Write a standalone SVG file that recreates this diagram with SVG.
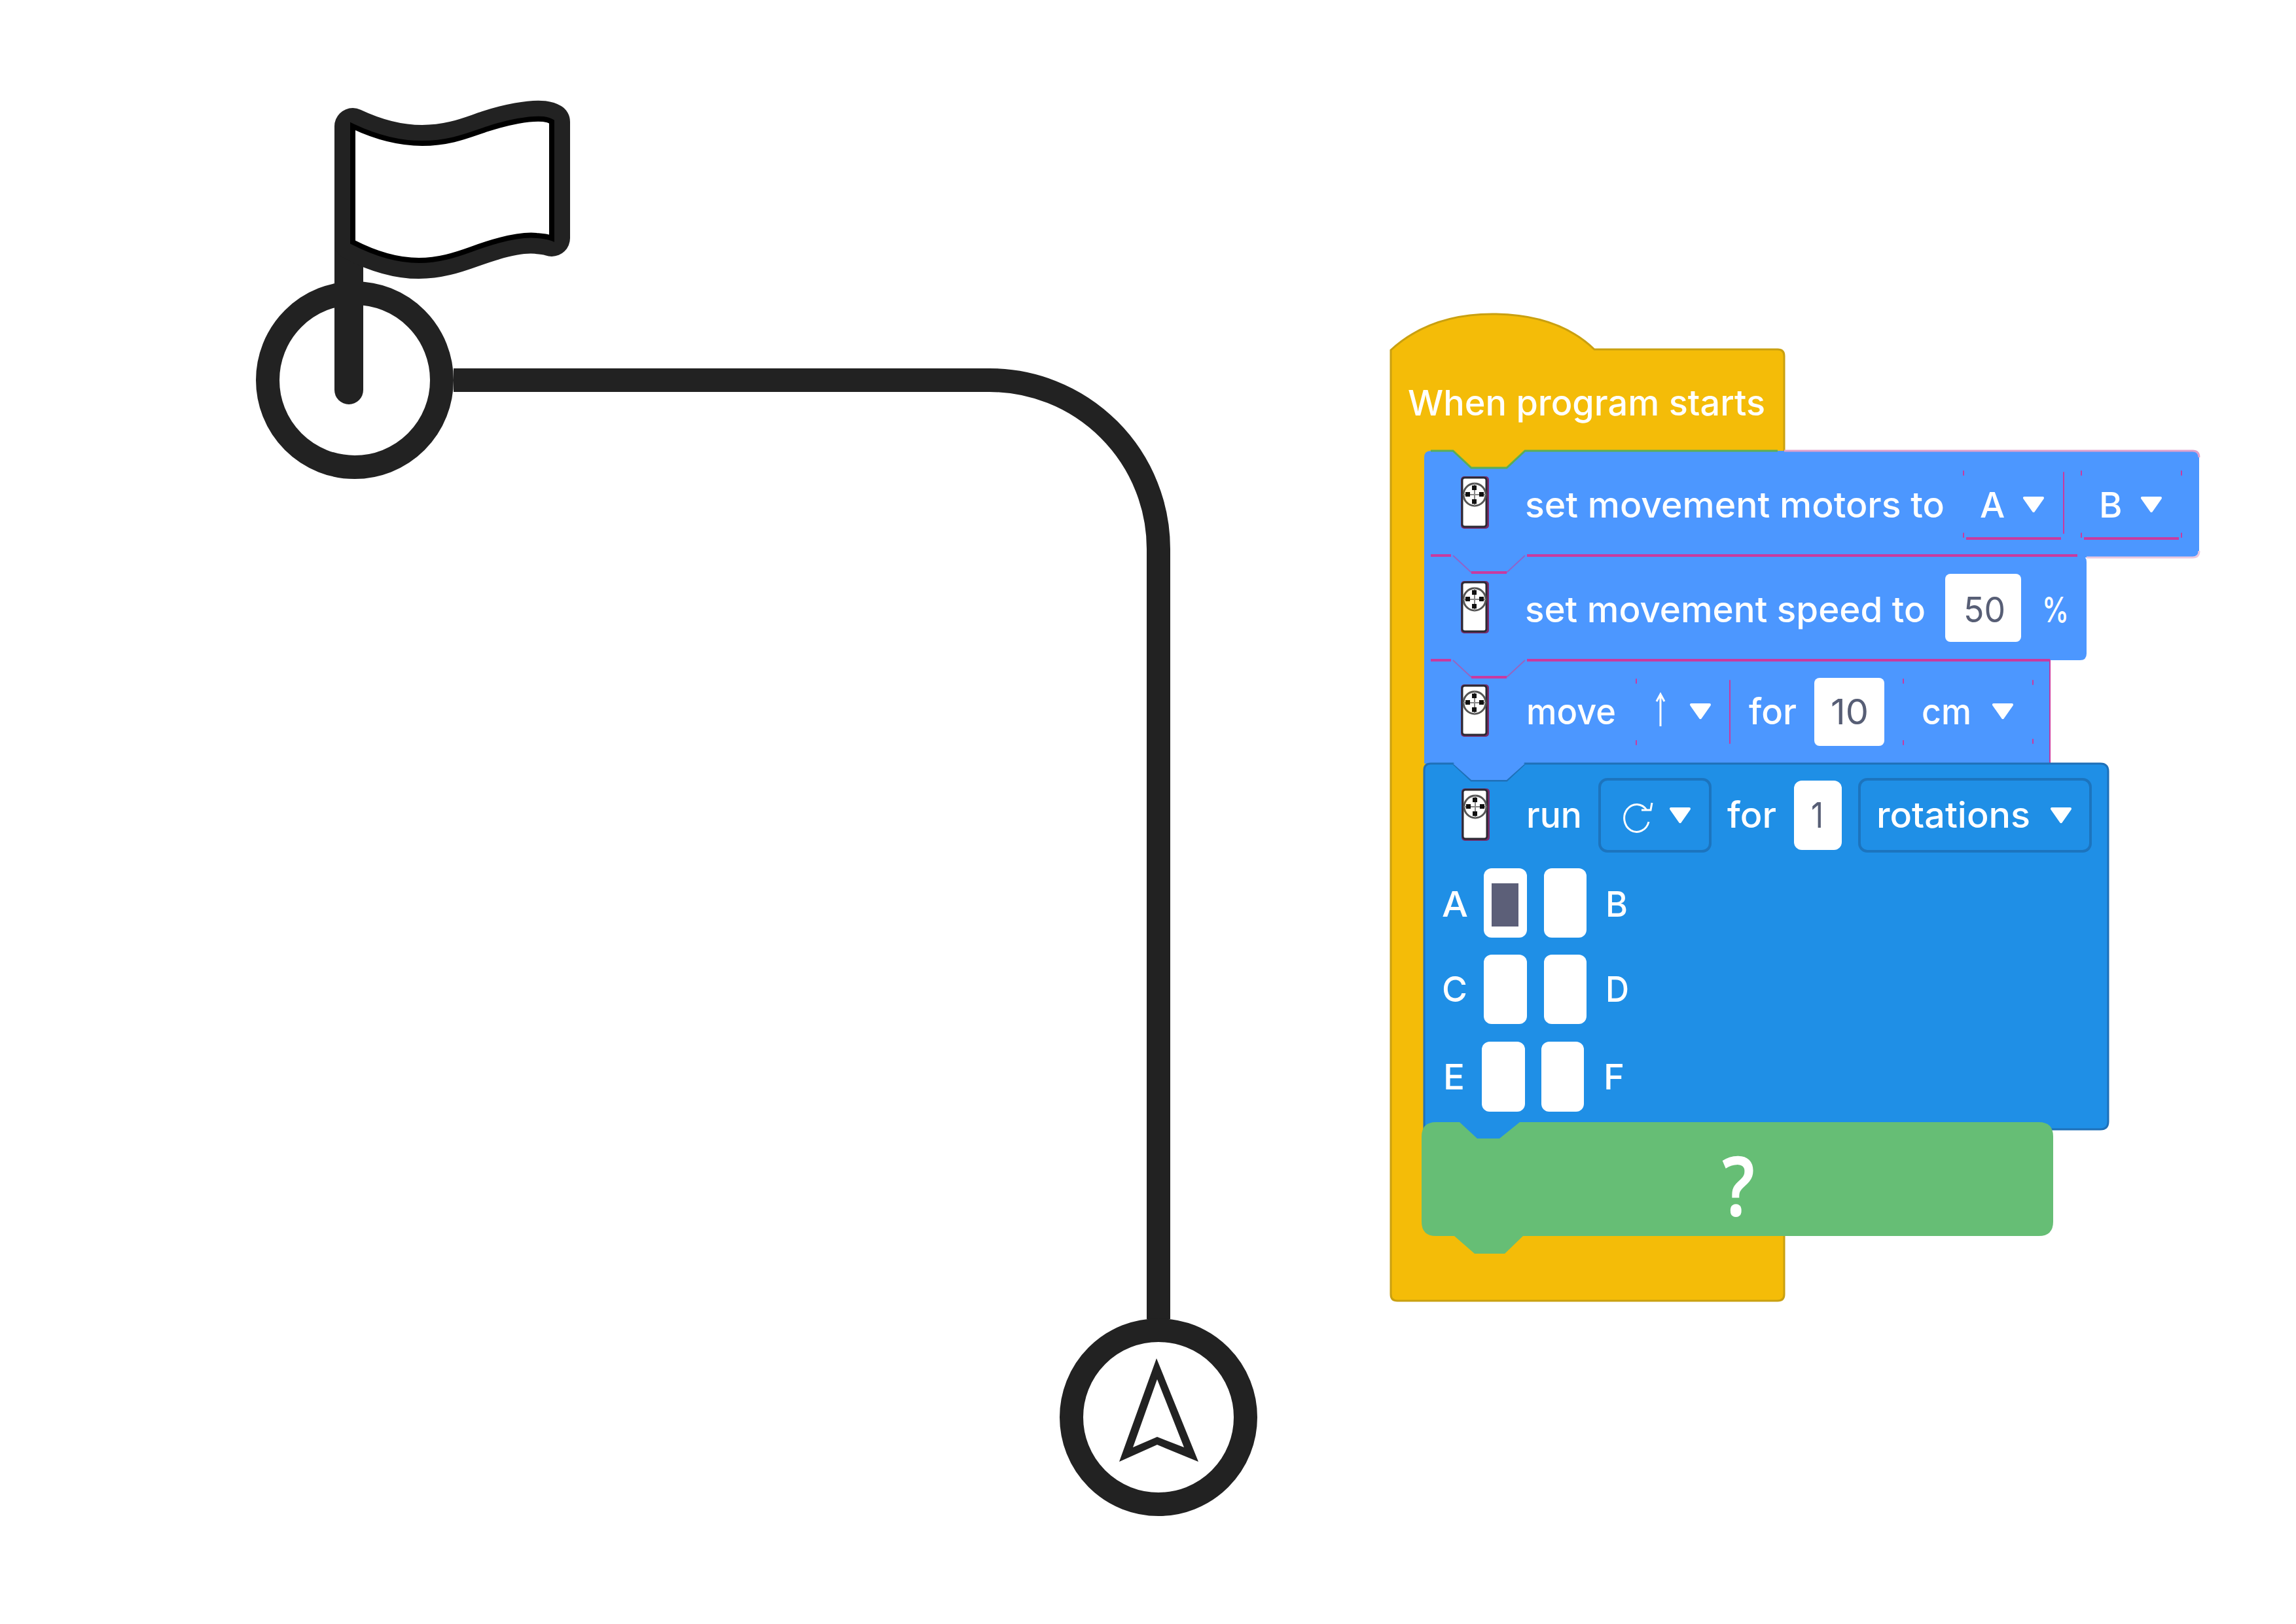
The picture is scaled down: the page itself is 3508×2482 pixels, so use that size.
<svg xmlns="http://www.w3.org/2000/svg" width="3508" height="2482" viewBox="0 0 3508 2482">
<style>
.t{font-family:Inter,"Liberation Sans",sans-serif;font-size:54px;fill:#fff;font-weight:500}
.g{fill:#575E75;font-weight:400}
.dd{fill:none;stroke:#1C74BE;stroke-width:4}
.in{fill:#fff}
.m{fill:none;stroke:#C93A9F;stroke-width:4}
.d{fill:none;stroke:#C93A9F;stroke-width:2;stroke-opacity:.55}
.md{fill:none;stroke:#C93A9F;stroke-width:2;stroke-linecap:round}
.mb{fill:none;stroke:#C93A9F;stroke-width:4}
.k{fill:none;stroke:#222;stroke-width:36}
</style>
<defs>
<path id="tri" d="M2 1H30L16 21Z" fill="#fff" stroke="#fff" stroke-width="4" stroke-linejoin="round"/>
<g id="icon">
<rect x="-1" y="-1" width="43" height="80" rx="5" fill="#7A2A6A"/>
<rect x="1" y="1" width="37" height="75" rx="4" fill="#fff" stroke="#2A2A33" stroke-width="3"/>
<circle cx="20" cy="27" r="17" fill="#fff" stroke="#555" stroke-width="3"/>
<path d="M20 10V44M3 27H37" stroke="#888" stroke-width="2"/>
<rect x="16" y="13" width="7" height="7" fill="#111"/><rect x="16" y="34" width="7" height="7" fill="#111"/>
<rect x="6" y="23" width="7" height="7" fill="#111"/><rect x="27" y="23" width="7" height="7" fill="#111"/>
</g>
</defs>
<rect width="3508" height="2482" fill="#fff"/>
<g id="connectors">
<path class="k" d="M693 581H1512A258 258 0 0 1 1770 839V2016"/>
</g>
<g id="start">
<circle class="k" cx="542" cy="581" r="133"/>
<path d="M533 200V596" stroke="#222" stroke-width="44" stroke-linecap="round" fill="none"/>
<path d="M539 193C575 210 610 219 645 219C690 219 720 205 745 197C775 187 810 180 830 182Q838 183 843 186V364Q835 361 820 360C790 357 750 370 720 381C695 390 670 398 640 398C605 398 570 386 539 370Z" fill="#222" stroke="#222" stroke-width="56" stroke-linejoin="round"/>
<path d="M539 193C575 210 610 219 645 219C690 219 720 205 745 197C775 187 810 180 830 182Q838 183 843 186V364Q835 361 820 360C790 357 750 370 720 381C695 390 670 398 640 398C605 398 570 386 539 370Z" fill="#fff" stroke="#000" stroke-width="8"/>
</g>
<g id="end">
<circle class="k" cx="1770" cy="2166" r="133" fill="#fff"/>
<path fill="#222" fill-rule="evenodd" d="M1767 2076L1710 2234L1768 2208L1831 2234ZM1768 2108L1809 2212L1768 2196L1731 2212Z"/>
</g>
<g id="hat-block">
<path d="M2125 535Q2185 480 2280 480Q2380 480 2436 534H2716Q2726 534 2726 544V1978Q2726 1988 2716 1988H2135Q2125 1988 2125 1978Z" fill="#F4BC08" stroke="#C9A010" stroke-width="3"/>
<text class="t" x="2151" y="635" textLength="546" lengthAdjust="spacingAndGlyphs">When program starts</text>
</g>
<g id="motor-pair-block">
<path d="M2176 699Q2176 689 2186 689H2220L2248 715H2302L2330 689H3350Q3360 689 3360 699V842Q3360 852 3350 852H2330L2302 878H2248L2220 852H2176Z" fill="#4C97FF"/>
<path d="M2186 689H2220L2248 715H2302L2330 689H2716" fill="none" stroke="#5AAE55" stroke-width="3"/>
<path d="M2726 689H3350Q3360 689 3360 699" fill="none" stroke="#DFA0CC" stroke-width="3"/>
<path d="M3188 852H3350Q3360 852 3360 842" fill="none" stroke="#EBC8E0" stroke-width="3"/>
<use href="#icon" x="2233" y="729"/>
<text class="t" x="2330" y="791" textLength="641" lengthAdjust="spacingAndGlyphs">set movement motors to</text>
<path class="md" d="M3000 720V726M3000 815V821M3153 722V815M3180 720V726M3180 815V821M3333 720V726M3333 815V821"/>
<path class="mb" d="M3004 823H3149M3184 823H3329"/>
<text class="t" x="3025" y="791">A</text><use href="#tri" x="3091" y="760"/>
<text class="t" x="3207" y="791">B</text><use href="#tri" x="3271" y="760"/>
</g>
<g id="speed-block">
<path d="M2176 849H2220L2248 875H2302L2330 849H3178Q3188 849 3188 859V999Q3188 1009 3178 1009H2330L2302 1035H2248L2220 1009H2176Z" fill="#4C97FF"/>
<path class="m" d="M2186 849H2217M2248 875H2302M2333 849H3174"/>
<path class="d" d="M2220 849L2248 875M2302 875L2330 849"/>
<use href="#icon" x="2233" y="889"/>
<text class="t" x="2330" y="951" textLength="612" lengthAdjust="spacingAndGlyphs">set movement speed to</text>
<rect class="in" x="2972" y="877" width="116" height="104" rx="8"/>
<text class="t g" x="3000" y="951" textLength="64" lengthAdjust="spacingAndGlyphs">50</text>
<text class="t" x="3120" y="951" textLength="41" lengthAdjust="spacingAndGlyphs">%</text>
</g>
<g id="move-block">
<path d="M2176 1009H2220L2248 1035H2302L2330 1009H3132V1167H2330L2302 1193H2248L2220 1167H2176Z" fill="#4C97FF"/>
<path class="m" d="M2186 1009H2217M2248 1035H2302M2333 1009H3132"/>
<path class="d" d="M2220 1009L2248 1035M2302 1035L2330 1009"/>
<path class="md" d="M3132 1009V1167"/>
<use href="#icon" x="2233" y="1047"/>
<text class="t" x="2332" y="1107" textLength="137" lengthAdjust="spacingAndGlyphs">move</text>
<path class="md" d="M2500 1038V1044M2500 1132V1138M2643 1040V1136M2908 1038V1044M2908 1132V1138M3106 1040V1046M3106 1130V1136"/>
<path d="M2537 1110V1062M2531 1072L2537 1061L2543 1072" fill="none" stroke="#fff" stroke-width="3"/>
<use href="#tri" x="2582" y="1076"/>
<text class="t" x="2672" y="1107" textLength="73" lengthAdjust="spacingAndGlyphs">for</text>
<rect class="in" x="2772" y="1036" width="107" height="104" rx="8"/>
<text class="t g" x="2797" y="1107" textLength="58" lengthAdjust="spacingAndGlyphs">10</text>
<text class="t" x="2936" y="1107" textLength="76" lengthAdjust="spacingAndGlyphs">cm</text>
<use href="#tri" x="3044" y="1076"/>
</g>
<g id="run-block">
<path d="M2176 1177Q2176 1167 2186 1167H2220L2248 1193H2302L2330 1167H3209Q3221 1167 3221 1179V1714Q3221 1726 3209 1726H2330L2302 1752H2248L2220 1726H2176Z" fill="#1F8FE6" stroke="#1F70B8" stroke-width="3"/>
<path d="M2220 1167L2248 1192H2302L2330 1167Z" fill="#4C97FF"/>
<use href="#icon" x="2234" y="1206"/>
<text class="t" x="2332" y="1265" textLength="85" lengthAdjust="spacingAndGlyphs">run</text>
<rect class="dd" x="2444" y="1191" width="169" height="110" rx="12"/>
<path d="M2516 1238A19 21 0 1 0 2519 1256M2508 1238H2522L2524 1227" fill="none" stroke="#fff" stroke-width="3"/>
<use href="#tri" x="2551" y="1235"/>
<text class="t" x="2639" y="1265" textLength="75" lengthAdjust="spacingAndGlyphs">for</text>
<rect class="in" x="2741" y="1193" width="73" height="106" rx="12"/>
<text class="t g" x="2767" y="1265" textLength="19" lengthAdjust="spacingAndGlyphs">1</text>
<rect class="dd" x="2841" y="1191" width="353" height="110" rx="12"/>
<text class="t" x="2867" y="1265" textLength="235" lengthAdjust="spacingAndGlyphs">rotations</text>
<use href="#tri" x="3133" y="1235"/>
<text class="t" x="2203" y="1401" textLength="40" lengthAdjust="spacingAndGlyphs">A</text>
<rect class="in" x="2267" y="1327" width="66" height="106" rx="12"/>
<rect x="2279" y="1350" width="41" height="66" fill="#5C5F78"/>
<rect class="in" x="2359" y="1327" width="65" height="106" rx="12"/>
<text class="t" x="2453" y="1401" textLength="34" lengthAdjust="spacingAndGlyphs">B</text>
<text class="t" x="2203" y="1531" textLength="39" lengthAdjust="spacingAndGlyphs">C</text>
<rect class="in" x="2267" y="1459" width="66" height="106" rx="12"/>
<rect class="in" x="2359" y="1459" width="65" height="106" rx="12"/>
<text class="t" x="2453" y="1531" textLength="36" lengthAdjust="spacingAndGlyphs">D</text>
<text class="t" x="2205" y="1665" textLength="33" lengthAdjust="spacingAndGlyphs">E</text>
<rect class="in" x="2264" y="1592" width="66" height="107" rx="12"/>
<rect class="in" x="2355" y="1592" width="65" height="107" rx="12"/>
<text class="t" x="2450" y="1665" textLength="32" lengthAdjust="spacingAndGlyphs">F</text>
</g>
<g id="placeholder-block">
<path d="M2172 1737Q2172 1715 2194 1715H2230L2257 1740H2291L2322 1715H3115Q3137 1715 3137 1737V1867Q3137 1889 3115 1889H2327L2299 1916H2253L2222 1889H2194Q2172 1889 2172 1867Z" fill="#66BE75"/>
<text x="2656" y="1858" text-anchor="middle" font-family="'Noto Sans','Liberation Sans',sans-serif" font-weight="600" font-size="126" fill="#fff" textLength="50" lengthAdjust="spacingAndGlyphs">?</text>
</g>
</svg>
